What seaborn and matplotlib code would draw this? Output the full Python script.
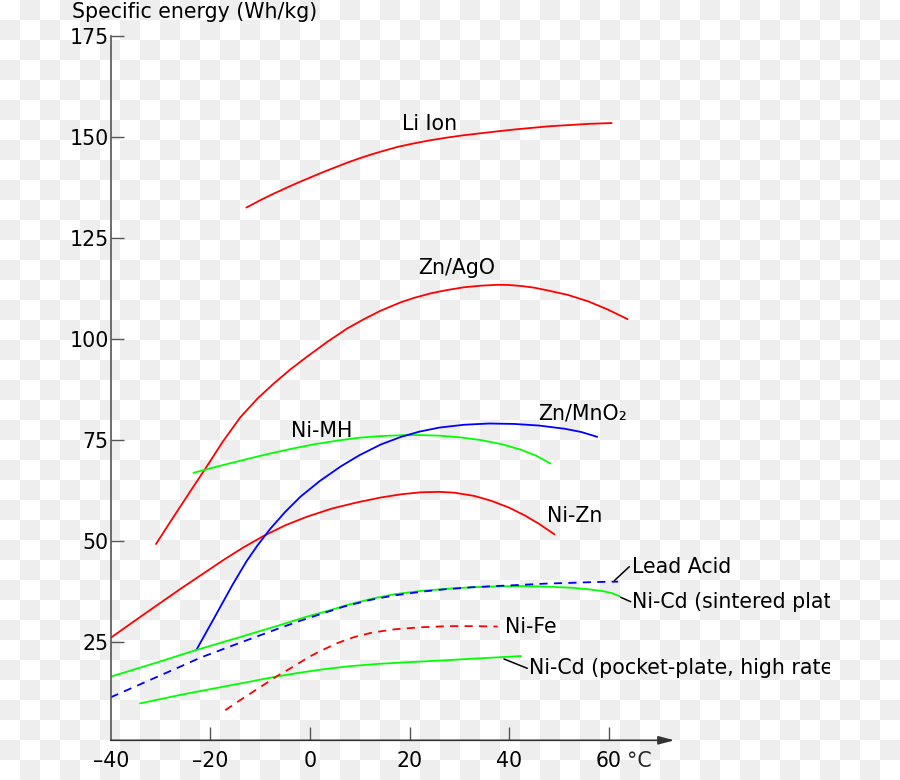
import numpy as np
import pandas as pd
import matplotlib
matplotlib.use("Agg")
import matplotlib.pyplot as plt
import seaborn as sns

# ---------------- data ----------------
li_ion_t = [-12.75, -10, -7, -4.5, -2.5, 0, 2.5, 5, 7.5, 10, 12.5, 15, 17.6, 21, 24, 27.5, 31, 34.5, 38, 41, 44.5, 48, 52, 56, 60.6]
li_ion_e = [132.5, 134.3, 136.1, 137.5, 138.6, 139.9, 141.2, 142.4, 143.6, 144.7, 145.7, 146.6, 147.5, 148.4, 149.1, 149.8, 150.4, 150.9, 151.4, 151.8, 152.2, 152.6, 152.9, 153.2, 153.4]

znago_t = [-30.9, -28.5, -26, -23.5, -20.7, -17.5, -14, -10.5, -7.25, -4, -0.5, 3.5, 7.5, 11, 14.2, 18.3, 21, 24.3, 27.5, 31, 34.5, 37.7, 40, 42.5, 45, 47.8, 51.8, 55.9, 59.8, 63.8]
znago_e = [49.3, 53.9, 58.6, 63.3, 68.5, 74.6, 80.6, 85.3, 89.0, 92.4, 95.7, 99.3, 102.6, 105.0, 107.0, 109.1, 110.2, 111.3, 112.1, 112.8, 113.2, 113.4, 113.35, 113.1, 112.7, 112.0, 110.9, 109.3, 107.3, 104.9]

znmno2_t = [-22.8, -19, -15.5, -12.75, -10.5, -8, -5, -1.9, 2, 6.2, 10, 14.2, 18.3, 22, 26, 31, 36, 41, 46, 51.2, 54.5, 57.7]
znmno2_e = [23.1, 31.5, 39.3, 45.0, 49.0, 53.0, 57.2, 61.0, 64.9, 68.5, 71.3, 73.9, 75.8, 77.1, 78.1, 78.8, 79.1, 79.0, 78.6, 77.8, 77.0, 75.8]

nimh_t = [-23.4, -18.5, -14, -9, -3.9, 1, 6.2, 10, 14.2, 18.3, 22, 26, 30, 34.4, 38.5, 42.4, 45.5, 48.3]
nimh_e = [66.9, 68.5, 69.9, 71.4, 72.8, 74.0, 75.0, 75.6, 76.0, 76.2, 76.25, 76.1, 75.7, 75.0, 74.0, 72.6, 71.1, 69.2]

nizn_t = [-39.9, -33, -26, -17.3, -13.3, -9.3, -5, -0.5, 4.5, 9.5, 14.2, 18.3, 22.3, 26, 29, 33, 36.4, 40, 43.1, 46, 49.1]
nizn_e = [26.2, 32.2, 38.2, 45.4, 48.5, 51.3, 53.9, 56.1, 58.1, 59.6, 60.8, 61.6, 62.1, 62.2, 62.0, 61.2, 60.0, 58.3, 56.4, 54.3, 51.7]

lead_t = [-40, -33, -26, -22, -14, -5.9, -2, 2.2, 7, 12.2, 17, 22.3, 27, 32.4, 37, 42.4, 47, 52.5, 57, 61.9]
lead_e = [11.4, 15.2, 19.0, 21.2, 24.9, 28.6, 30.3, 32.0, 33.9, 35.5, 36.6, 37.5, 38.1, 38.6, 38.9, 39.2, 39.5, 39.7, 39.9, 40.0]

nicd_s_t = [-40, -31, -22.8, -14, -5.9, -1, 4.2, 8, 12.9, 17, 22.3, 27, 32.4, 37, 42.4, 47, 52.5, 56, 58.6, 60.5, 62.2]
nicd_s_e = [16.5, 19.9, 23.1, 26.3, 29.3, 31.2, 33.0, 34.4, 35.9, 36.9, 37.7, 38.2, 38.6, 38.8, 38.9, 38.8, 38.5, 38.1, 37.7, 37.2, 36.4]

nife_t = [-17, -14.5, -12, -9, -6.4, -4, -2, 0, 2.2, 5.5, 8.9, 12.5, 16.9, 22, 27.7, 33, 37.7]
nife_e = [8.2, 10.3, 12.3, 14.7, 16.8, 18.5, 20.0, 21.5, 22.9, 24.8, 26.3, 27.4, 28.2, 28.7, 29.0, 29.0, 28.9]

nicd_p_t = [-34.1, -26, -16, -6.4, -2, 2.5, 8, 14.2, 20, 27.7, 35, 42.4]
nicd_p_e = [9.9, 12.0, 14.35, 16.6, 17.5, 18.3, 19.1, 19.7, 20.1, 20.6, 21.1, 21.6]

x_ticks = [-40, -20, 0, 20, 40, 60]
x_ticklabels = ["\u201340", "\u201320", "0", "20", "40", "60"]
y_ticks = [25, 50, 75, 100, 125, 150, 175]
y_ticklabels = ["25", "50", "75", "100", "125", "150", "175"]

# ---------------- figure ----------------
sns.set_style("white")
plt.rcParams["font.family"] = ["DejaVu Sans"]

W, H = 900, 780
fig = plt.figure(figsize=(W / 100, H / 100), dpi=100)
fig.patch.set_facecolor("white")

# transparency-style checkerboard background
sq = 20
yy, xx = np.mgrid[0:H, 0:W]
checker = ((yy // sq + xx // sq) % 2).astype(float)
bg = np.where(checker == 1, 0xEE / 255, 1.0)
bg_rgb = np.dstack([bg, bg, bg])
fig.figimage(bg_rgb, xo=0, yo=0, origin="upper", zorder=-10)

ax_left, ax_right, ax_top, ax_bottom = 110.7, 830.0, 35.7, 740.3
ax = fig.add_axes([ax_left / W, (H - ax_bottom) / H,
                   (ax_right - ax_left) / W, (ax_bottom - ax_top) / H])
ax.set_facecolor("none")
px_per_x = 4.98
ax.set_xlim(-40, -40 + (ax_right - ax_left) / px_per_x)
ax.set_ylim(0.77, 175)

series = [
    (li_ion_t, li_ion_e, "#ff0000", "-"),
    (znago_t, znago_e, "#ff0000", "-"),
    (nizn_t, nizn_e, "#ff0000", "-"),
    (nimh_t, nimh_e, "#00ff00", "-"),
    (znmno2_t, znmno2_e, "#0000ff", "-"),
    (nicd_s_t, nicd_s_e, "#00ff00", "-"),
    (nicd_p_t, nicd_p_e, "#00ff00", "-"),
    (lead_t, lead_e, "#0000ff", "--"),
    (nife_t, nife_e, "#ff0000", "--"),
]
for t, e, c, ls in series:
    sns.lineplot(x=np.array(t), y=np.array(e), ax=ax, color=c, lw=1.3,
                 estimator=None, sort=False)
    ln = ax.lines[-1]
    ln.set_solid_joinstyle("round")
    if ls == "--":
        ln.set_dashes((4.5, 3.5))

# spines / axes
for s in ["top", "right", "bottom"]:
    ax.spines[s].set_visible(False)
ax.spines["left"].set_color("#555555")
ax.spines["left"].set_linewidth(1.2)
ax.spines["left"].set_bounds(0.77, 175)

ax.annotate("", xy=(73.2, 0), xycoords=("data", "axes fraction"),
            xytext=(-40, 0), textcoords=("data", "axes fraction"),
            arrowprops=dict(arrowstyle="-|>,head_length=0.95,head_width=0.25",
                            color="#333333", lw=1.2, shrinkA=0, shrinkB=0,
                            mutation_scale=10))

fs = 14.8
ax.set_xticks(x_ticks)
ax.set_xticklabels(x_ticklabels)
ax.set_yticks(y_ticks)
ax.set_yticklabels(y_ticklabels)
ax.tick_params(axis="both", direction="in", length=9.5, width=1.0,
               color="#555555", labelsize=fs, labelcolor="black")
ax.tick_params(axis="x", pad=8, bottom=True)
ax.tick_params(axis="y", pad=1.5, left=True)
ax.set_xlabel("")
ax.set_ylabel("")
ax.grid(False)
# hide the x tick mark at -40 (coincides with y axis)
ax.xaxis.get_major_ticks()[0].tick1line.set_visible(False)

deg = ax.text(63.6, 0, "\u00b0C", transform=ax.get_xaxis_transform(),
              ha="left", va="top", fontsize=fs)
deg.set_y(-(8 / 72 * 100) / (ax_bottom - ax_top))

labels = [
    (18.49, 153.2, "Li Ion"),
    (21.71, 117.6, "Zn/AgO"),
    (45.81, 81.5, "Zn/MnO\u2082"),
    (-3.86, 77.3, "Ni-MH"),
    (47.55, 56.2, "Ni-Zn"),
    (64.74, 43.7, "Lead Acid"),
    (64.74, 35.0, "Ni-Cd (sintered plate)"),
    (39.18, 28.9, "Ni-Fe"),
    (44.06, 18.6, "Ni-Cd (pocket-plate, high rate)"),
]
for x, y, s in labels:
    ax.text(x, y, s, ha="left", va="center", fontsize=fs, color="black",
            clip_on=True)

leaders = [
    ((61.12, 40.23), (64.14, 43.7)),
    ((62.41, 36.13), (64.42, 35.04)),
    ((38.98, 20.87), (43.65, 18.57)),
]
for a, b in leaders:
    ax.annotate("", xy=b, xytext=a,
                arrowprops=dict(arrowstyle="-", color="black", lw=1.1,
                                shrinkA=0, shrinkB=0))

fig.text(72 / W, 1 - 12 / H, "Specific energy (Wh/kg)", ha="left",
         va="center", fontsize=fs, color="black")

fig.savefig("out.png", dpi=100)
